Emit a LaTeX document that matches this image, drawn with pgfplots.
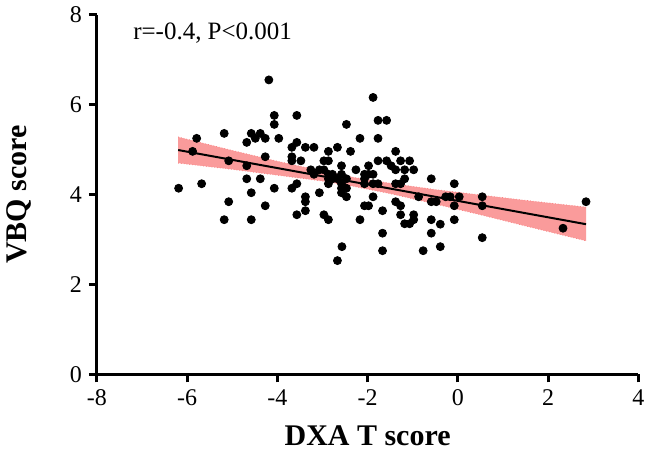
\documentclass[border=0pt]{standalone}
\usepackage{fontspec}
\setmainfont{Liberation Serif}
\usepackage{pgfplots}
\pgfplotsset{compat=1.18}
\usepgfplotslibrary{fillbetween}
\definecolor{band}{RGB}{250,155,155}

\begin{document}
\begin{tikzpicture}
\begin{axis}[
  scale only axis,
  width=271pt, height=180pt,
  xmin=-8, xmax=4, ymin=0, ymax=8,
  xtick={-8,-6,...,4}, ytick={0,2,...,8},
  axis lines=left,
  axis line style={line width=1.5pt, -},
  tick style={line width=1.5pt, black},
  tick align=outside, major tick length=4pt,
  /pgf/number format/assume math mode=true,
  tick label style={font=\fontsize{12}{14}\selectfont},
  xlabel={DXA T score}, ylabel={VBQ score},
  every axis x label/.style={at={(axis description cs:0.5,-0.172)}, anchor=center,
    font=\fontsize{15}{18}\selectfont\bfseries},
  every axis y label/.style={at={(axis description cs:-0.144,0.5)}, rotate=90, anchor=center,
    font=\fontsize{15}{18}\selectfont\bfseries},
  clip=false,
]
% 95% confidence band
\addplot[name path=up, draw=band!85!red, densely dotted, thin] coordinates {
  (-6.2,5.28) (-5,4.98) (-4,4.74) (-3,4.52) (-2.3,4.38) (-1.5,4.25)
  (-0.5,4.11) (0.5,3.99) (1.5,3.87) (2.84,3.72)};
\addplot[name path=lo, draw=band!85!red, densely dotted, thin] coordinates {
  (-6.2,4.70) (-5,4.56) (-4,4.43) (-3,4.30) (-2.3,4.18) (-1.5,4.02)
  (-0.5,3.79) (0.5,3.55) (1.5,3.30) (2.84,2.97)};
\addplot[band] fill between[of=up and lo];
% regression line
\addplot[black, line width=1pt] coordinates {(-6.2,4.99) (2.84,3.34)};
% data points
\addplot[only marks, mark=*, mark size=2pt, black] coordinates {
  (-4.19,6.55) (-4.07,5.76) (-3.57,5.76) (-4.07,5.56) (-5.79,5.25) (-5.18,5.36)
  (-4.58,5.36) (-4.38,5.36) (-4.49,5.25) (-4.27,5.25) (-3.97,5.25) (-4.68,5.16)
  (-3.57,5.16) (-3.68,5.05) (-3.38,5.05) (-3.19,5.05) (-5.88,4.96) (-3.68,4.84)
  (-3.68,4.75) (-3.48,4.75) (-4.27,4.84) (-5.08,4.75) (-4.68,4.64) (-3.26,4.55)
  (-3.19,4.45) (-6.19,4.14) (-5.68,4.24) (-4.68,4.35) (-4.38,4.35) (-4.07,4.14)
  (-3.68,4.14) (-3.57,4.24) (-4.58,4.04) (-5.08,3.84) (-4.27,3.75) (-3.38,3.95)
  (-3.38,3.84) (-3.38,3.64) (-3.57,3.55) (-5.18,3.44) (-4.58,3.44)
  (-1.88,6.16) (-1.77,5.65) (-1.58,5.65) (-2.47,5.56) (-1.77,5.25) (-2.17,5.25)
  (-2.87,4.96) (-2.67,5.05) (-2.38,4.96) (-1.38,4.96) (-2.97,4.75) (-2.87,4.75)
  (-2.58,4.64) (-1.77,4.75) (-1.58,4.75) (-1.48,4.64) (-1.27,4.75) (-1.07,4.75)
  (-1.98,4.64) (-1.38,4.55) (-1.18,4.55) (-0.98,4.55) (-2.26,4.55) (-3.07,4.55)
  (-2.97,4.55) (-2.87,4.45) (-2.78,4.45) (-2.67,4.35) (-2.58,4.45) (-2.87,4.35)
  (-2.78,4.35) (-2.87,4.24) (-2.58,4.24) (-2.58,4.14) (-2.58,4.04) (-2.47,4.14)
  (-2.47,3.95) (-2.47,4.35) (-2.07,4.45) (-1.98,4.45) (-1.88,4.45) (-2.07,4.35)
  (-2.07,4.24) (-1.88,4.24) (-1.77,4.24) (-1.38,4.24) (-1.27,4.24) (-1.18,4.35)
  (-1.88,3.95) (-1.38,3.84) (-1.27,3.75) (-0.87,3.95) (-0.59,4.35) (-0.59,3.84)
  (-0.48,3.84) (-0.27,3.95) (-0.17,3.95) (-0.08,4.24) (-0.08,3.75) (-3.07,4.04)
  (-2.97,3.55) (-2.87,3.44) (-2.07,3.75) (-1.98,3.75) (-1.67,3.64) (-2.17,3.44)
  (-1.27,3.55) (-1.18,3.35) (-1.07,3.35) (-0.98,3.44) (-0.98,3.55) (-0.59,3.44)
  (-0.59,3.14) (-0.39,3.34) (-0.08,3.44) (-0.39,2.84) (-1.67,3.14) (-1.67,2.75)
  (-0.77,2.75) (-2.57,2.84) (-2.67,2.53)
  (0.03,3.95) (0.54,3.95) (0.54,3.75) (0.54,3.04) (2.33,3.25) (2.84,3.84)};
\node[anchor=west, font=\fontsize{12.5}{15}\selectfont] at (axis cs:-7.35,7.58) {r=-0.4, P<0.001};
\end{axis}
\end{tikzpicture}
\end{document}
